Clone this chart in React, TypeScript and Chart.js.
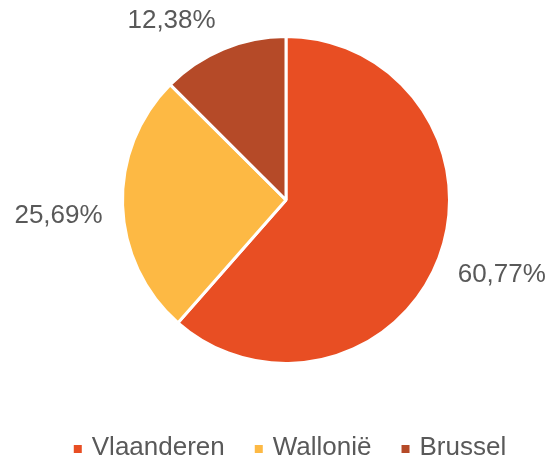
import React, { useEffect, useRef } from "react";
import { Chart, registerables } from "chart.js";

Chart.register(...registerables);

const categories = ["Vlaanderen", "Wallonië", "Brussel"];
const shares = [60.77, 25.69, 12.38];
const colors = ["#E84E23", "#FDB944", "#B54A28"];
const TEXT = "#595959";
const FONT = "26px 'Liberation Sans', Arial, sans-serif";

const fmt = (v: number) => v.toFixed(2).replace(".", ",") + "%";

const labelsPlugin = {
  id: "pieLabels",
  afterDraw(chart: any) {
    const ctx = chart.ctx;
    const meta = chart.getDatasetMeta(0);
    ctx.save();
    ctx.font = FONT;
    ctx.fillStyle = TEXT;
    ctx.textAlign = "center";
    ctx.textBaseline = "middle";
    const gap = 20;
    meta.data.forEach((arc: any, i: number) => {
      const { x, y, startAngle, endAngle, outerRadius } = arc.getProps(
        ["x", "y", "startAngle", "endAngle", "outerRadius"],
        true
      );
      const mid = (startAngle + endAngle) / 2;
      const dx = Math.cos(mid);
      const dy = Math.sin(mid);
      const text = fmt(shares[i]);
      const w = ctx.measureText(text).width;
      const h = 20;
      const ax = x + (outerRadius + gap) * dx;
      const ay = y + (outerRadius + gap) * dy;
      const px = ax + Math.sign(dx) * (w / 2);
      const py = ay + Math.sign(dy) * (h / 2);
      ctx.fillText(text, px, py);
    });

    // legend
    const box = 8;
    const gapBoxText = 10;
    const gapItems = 30;
    const widths = categories.map((c) => ctx.measureText(c).width);
    const total =
      widths.reduce((a, b) => a + b, 0) +
      categories.length * (box + gapBoxText) +
      (categories.length - 1) * gapItems;
    const cx = meta.data[0].x;
    let lx = cx - total / 2 + 4;
    const ly = 448;
    ctx.textAlign = "left";
    categories.forEach((c, i) => {
      ctx.fillStyle = colors[i];
      ctx.fillRect(lx, ly - box / 2 + 1, box, box);
      lx += box + gapBoxText;
      ctx.fillStyle = TEXT;
      ctx.fillText(c, lx, ly);
      lx += widths[i] + gapItems;
    });
    ctx.restore();
  },
};

export default function App() {
  const ref = useRef<HTMLCanvasElement>(null);
  useEffect(() => {
    if (!ref.current) return;
    const chart = new Chart(ref.current, {
      type: "pie",
      data: {
        labels: categories,
        datasets: [
          {
            data: shares,
            backgroundColor: colors,
            borderColor: "#ffffff",
            borderWidth: 3,
          },
        ],
      },
      options: {
        responsive: false,
        animation: false,
        events: [],
        layout: { padding: { left: 121, right: 98, top: 35, bottom: 96 } },
        plugins: {
          legend: { display: false },
          tooltip: { enabled: false },
        },
      },
      plugins: [labelsPlugin],
    });
    return () => chart.destroy();
  }, []);
  return (
    <div style={{ position: "fixed", left: 0, top: 0, width: 549, height: 461, background: "#fff" }}>
      <canvas ref={ref} width={549} height={461} style={{ width: 549, height: 461 }} />
    </div>
  );
}
